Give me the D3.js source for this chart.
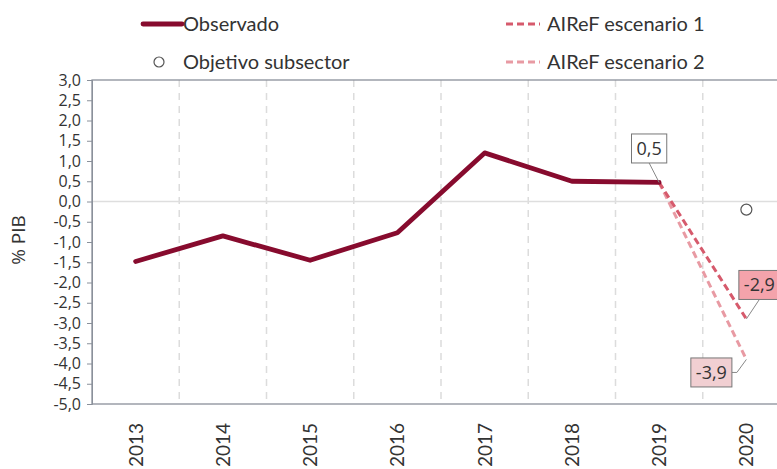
<!DOCTYPE html>
<html>
<head>
<meta charset="utf-8">
<script src="https://cdn.jsdelivr.net/npm/d3@7"></script>
<style>
  body { margin: 0; background: #fff; }
  text { font-family: Lato, "Open Sans", sans-serif; fill: #333; }
</style>
</head>
<body>
<div id="wrapper"></div>
<script>
// data
const years = ["2013", "2014", "2015", "2016", "2017", "2018", "2019", "2020"]
const observado = [-1.48, -0.85, -1.45, -0.77, 1.2, 0.5, 0.47]
const escenario1 = [["2019", 0.47], ["2020", -2.9]]
const escenario2 = [["2019", 0.47], ["2020", -3.9]]
const objetivo = [["2020", -0.2]]
const yTicks = [3, 2.5, 2, 1.5, 1, 0.5, 0, -0.5, -1, -1.5, -2, -2.5, -3, -3.5, -4, -4.5, -5]

const fmt = v => d3.format(".1f")(v).replace(".", ",").replace("−", "-")

//dimensions
const dimensions = {
  width: 777,
  height: 469,
  margin: { top: 80, right: -13, bottom: 65, left: 92 },
}
dimensions.boundedWidth = dimensions.width - dimensions.margin.left - dimensions.margin.right
dimensions.boundedHeight = dimensions.height - dimensions.margin.top - dimensions.margin.bottom

const svg = d3.select("#wrapper").append("svg")
  .attr("width", dimensions.width)
  .attr("height", dimensions.height)
  .style("display", "block")

const bounds = svg.append("g")
  .attr("transform", `translate(${dimensions.margin.left},${dimensions.margin.top})`)

//scales
const xScale = d3.scaleBand()
  .domain(years)
  .range([0, dimensions.boundedWidth])
const xc = d => xScale(d) + xScale.bandwidth() / 2
const yScale = d3.scaleLinear()
  .domain([-5, 3])
  .range([dimensions.boundedHeight, 0])

//grid
bounds.append("g").selectAll("line")
  .data(years.slice(1))
  .join("line")
  .attr("x1", d => xScale(d)).attr("x2", d => xScale(d))
  .attr("y1", 0).attr("y2", dimensions.boundedHeight)
  .attr("stroke", "#dcdcdc").attr("stroke-width", 1.5)
  .attr("stroke-dasharray", "7,6")

bounds.append("line")
  .attr("x1", 0).attr("x2", dimensions.boundedWidth)
  .attr("y1", yScale(0)).attr("y2", yScale(0))
  .attr("stroke", "#dedede").attr("stroke-width", 1.5)

//frame
bounds.append("rect")
  .attr("x", 0).attr("y", 0)
  .attr("width", dimensions.boundedWidth).attr("height", dimensions.boundedHeight)
  .attr("fill", "none").attr("stroke", "#8a909a").attr("stroke-width", 1.3)

//y axis
const yAxis = bounds.append("g")
  .call(d3.axisLeft(yScale).tickValues(yTicks).tickSize(5).tickPadding(6).tickFormat(fmt))
yAxis.select(".domain").attr("stroke", "#8a909a")
yAxis.selectAll(".tick line").attr("stroke", "#8a909a")
yAxis.selectAll("text")
  .style("font-family", "'Open Sans', sans-serif")
  .style("font-size", "16px")
  .attr("fill", "#333")

svg.append("text")
  .attr("transform", `translate(25,${dimensions.margin.top + yScale(-0.95)}) rotate(-90)`)
  .attr("text-anchor", "middle")
  .style("font-family", "'Open Sans', sans-serif")
  .style("font-size", "19px")
  .text("% PIB")

//x labels
bounds.append("g").selectAll("text")
  .data(years)
  .join("text")
  .attr("transform", d => `translate(${xc(d) + 7},${dimensions.boundedHeight + 19}) rotate(-90)`)
  .attr("text-anchor", "end")
  .style("font-size", "19px")
  .text(d => d)

//lines
const lineGenerator = d3.line()
  .x(d => xc(d[0]))
  .y(d => yScale(d[1]))

bounds.append("path")
  .attr("d", lineGenerator(escenario2))
  .attr("fill", "none").attr("stroke", "#e89aa3").attr("stroke-width", 3)
  .attr("stroke-dasharray", "7,4")
bounds.append("path")
  .attr("d", lineGenerator(escenario1))
  .attr("fill", "none").attr("stroke", "#d65a6c").attr("stroke-width", 3)
  .attr("stroke-dasharray", "7,4")
bounds.append("path")
  .attr("d", lineGenerator(observado.map((v, i) => [years[i], v])))
  .attr("fill", "none").attr("stroke", "#870b2e").attr("stroke-width", 4.8)
  .attr("stroke-linejoin", "round").attr("stroke-linecap", "round")

bounds.selectAll(".obj")
  .data(objetivo)
  .join("circle")
  .attr("cx", d => xc(d[0])).attr("cy", d => yScale(d[1]))
  .attr("r", 5.5)
  .attr("fill", "#fff").attr("stroke", "#555").attr("stroke-width", 1.2)

//data labels
const labels = [
  { year: "2019", value: 0.47, text: fmt(0.5), dx: -10, dy: -34, fill: "#fff", side: "bottom" },
  { year: "2020", value: -2.9, text: fmt(-2.9), dx: 13, dy: -34, fill: "#f4a3ab", side: "bottom" },
  { year: "2020", value: -3.9, text: fmt(-3.9), dx: -35, dy: 13, fill: "#f1cfd2", side: "right" },
]
labels.forEach(l => {
  const px = xc(l.year), py = yScale(l.value)
  const bx = px + l.dx, by = py + l.dy
  const g = bounds.append("g")
  const t = g.append("text")
    .attr("x", bx).attr("y", by)
    .attr("text-anchor", "middle").attr("dy", "0.35em")
    .style("font-family", "'Open Sans', sans-serif")
    .style("font-size", "18px")
    .text(l.text)
  const w = t.node().getComputedTextLength() + 10, h = 29
  g.insert("rect", "text")
    .attr("x", bx - w / 2).attr("y", by - h / 2)
    .attr("width", w).attr("height", h)
    .attr("fill", l.fill).attr("stroke", "#777").attr("stroke-width", 1)
  // leader line from box to point
  let pts
  if (l.side === "bottom") {
    pts = [[bx, by + h / 2], [px, py]]
  } else {
    pts = [[bx + w / 2, by], [bx + w / 2 + 5, by], [px, py]]
  }
  g.insert("path", "rect")
    .attr("d", d3.line()(pts))
    .attr("fill", "none").attr("stroke", "#888").attr("stroke-width", 1)
})

//legend
const legend = svg.append("g")
const legendItems = [
  { x: 143, y: 24, type: "line", color: "#870b2e", width: 4.8, len: 39, dash: null, label: "Observado", gap: 1 },
  { x: 506, y: 24, type: "line", color: "#d65a6c", width: 3, len: 34, dash: "7,4", label: "AIReF escenario 1", gap: 7 },
  { x: 154, y: 62, type: "circle", label: "Objetivo subsector" },
  { x: 506, y: 62, type: "line", color: "#e89aa3", width: 3, len: 34, dash: "7,4", label: "AIReF escenario 2", gap: 7 },
]
legendItems.forEach(d => {
  if (d.type === "line") {
    legend.append("line")
      .attr("x1", d.x).attr("x2", d.x + d.len)
      .attr("y1", d.y).attr("y2", d.y)
      .attr("stroke", d.color).attr("stroke-width", d.width)
      .attr("stroke-dasharray", d.dash)
      .attr("stroke-linecap", d.dash ? null : "round")
    legend.append("text")
      .attr("x", d.x + d.len + d.gap).attr("y", d.y).attr("dy", "0.35em")
      .style("font-size", "20px")
      .text(d.label)
  } else {
    legend.append("circle")
      .attr("cx", d.x + 5).attr("cy", d.y).attr("r", 5)
      .attr("fill", "#fff").attr("stroke", "#555").attr("stroke-width", 1.2)
    legend.append("text")
      .attr("x", d.x + 29).attr("y", d.y).attr("dy", "0.35em")
      .style("font-size", "20px")
      .text(d.label)
  }
})
</script>
</body>
</html>
